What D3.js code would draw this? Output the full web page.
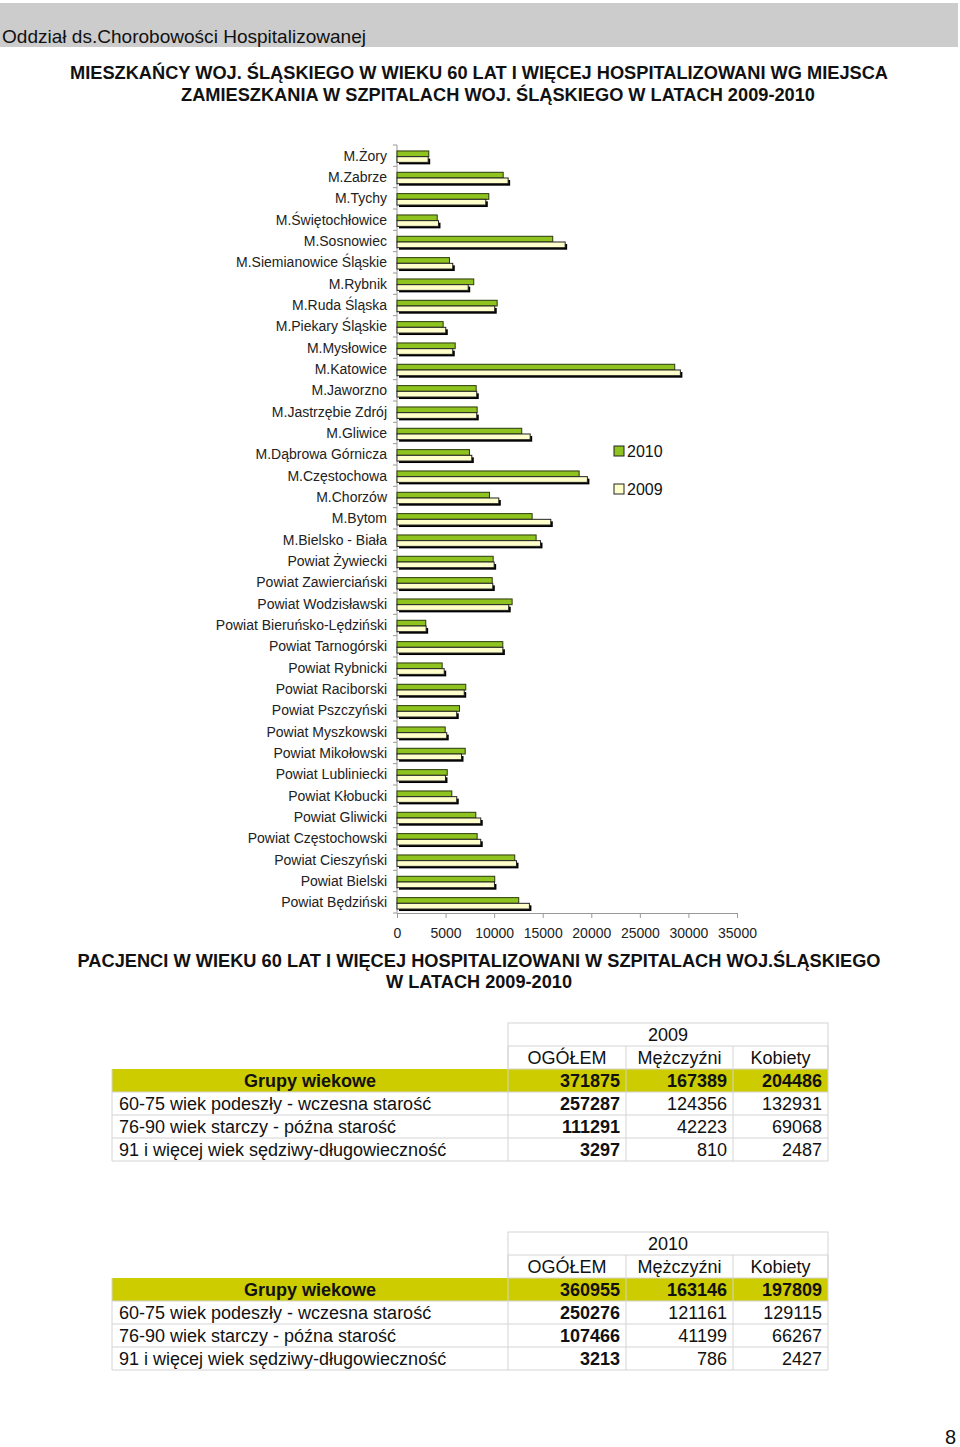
<!DOCTYPE html>
<html>
<head>
<meta charset="utf-8">
<script src="https://cdn.jsdelivr.net/npm/d3@7"></script>
<style>
  body { margin: 0; background: #fff; }
  svg { display: block; font-family: "Liberation Sans", Arial, sans-serif; }
</style>
</head>
<body>
<svg id="page" width="960" height="1447"></svg>
<script>
// categories, top to bottom as in the chart
const categories = [
  "M.Żory", "M.Zabrze", "M.Tychy", "M.Świętochłowice", "M.Sosnowiec",
  "M.Siemianowice Śląskie", "M.Rybnik", "M.Ruda Śląska", "M.Piekary Śląskie",
  "M.Mysłowice", "M.Katowice", "M.Jaworzno", "M.Jastrzębie Zdrój", "M.Gliwice",
  "M.Dąbrowa Górnicza", "M.Częstochowa", "M.Chorzów", "M.Bytom", "M.Bielsko - Biała",
  "Powiat Żywiecki", "Powiat Zawierciański", "Powiat Wodzisławski",
  "Powiat Bieruńsko-Lędziński", "Powiat Tarnogórski", "Powiat Rybnicki",
  "Powiat Raciborski", "Powiat Pszczyński", "Powiat Myszkowski", "Powiat Mikołowski",
  "Powiat Lubliniecki", "Powiat Kłobucki", "Powiat Gliwicki", "Powiat Częstochowski",
  "Powiat Cieszyński", "Powiat Bielski", "Powiat Będziński"
];

const values2010 = [
  3270, 10930, 9450, 4140, 16030, 5400, 7900, 10310, 4750, 5990, 28590, 8150,
  8250, 12840, 7460, 18750, 9520, 13910, 14320,
  9900, 9800, 11850, 2960, 10890, 4650, 7080, 6430, 4960, 7020, 5170, 5640,
  8110, 8250, 12120, 10060, 12530
];
const values2009 = [
  3210, 11440, 9140, 4270, 17310, 5740, 7330, 10060, 5020, 5740, 29170, 8210,
  8210, 13710, 7700, 19600, 10480, 15830, 14770,
  10000, 9860, 11500, 3000, 10900, 4860, 6920, 6150, 5120, 6640, 4990, 6150,
  8620, 8620, 12300, 10030, 13630
];
const years = ["2010", "2009"];
const xTicks = [0, 5000, 10000, 15000, 20000, 25000, 30000, 35000];

// tables
const tableCols = ["OGÓŁEM", "Mężczyźni", "Kobiety"];
const groups = [
  "Grupy wiekowe",
  "60-75 wiek podeszły - wczesna starość",
  "76-90 wiek starczy - późna starość",
  "91 i więcej wiek sędziwy-długowieczność"
];
const table2009 = [
  [371875, 167389, 204486],
  [257287, 124356, 132931],
  [111291, 42223, 69068],
  [3297, 810, 2487]
];
const table2010 = [
  [360955, 163146, 197809],
  [250276, 121161, 129115],
  [107466, 41199, 66267],
  [3213, 786, 2427]
];

const svg = d3.select("#page");

// header band
svg.append("rect").attr("x", 0).attr("y", 3).attr("width", 958).attr("height", 44).attr("fill", "#cccccc");
svg.append("text").attr("x", 2).attr("y", 43).attr("font-size", 19).attr("fill", "#111")
  .attr("textLength", 364).attr("lengthAdjust", "spacingAndGlyphs")
  .text("Oddział ds.Chorobowości Hospitalizowanej");

function title(txt, cx, y, w) {
  svg.append("text").attr("x", cx).attr("y", y).attr("text-anchor", "middle")
    .attr("font-size", 18).attr("font-weight", "bold").attr("fill", "#111")
    .attr("textLength", w).attr("lengthAdjust", "spacingAndGlyphs").text(txt);
}
title("MIESZKAŃCY WOJ. ŚLĄSKIEGO W WIEKU 60 LAT I WIĘCEJ HOSPITALIZOWANI WG MIEJSCA", 479, 79, 818);
title("ZAMIESZKANIA W SZPITALACH WOJ. ŚLĄSKIEGO W LATACH 2009-2010", 498, 101, 634);

// ---- bar chart ----
const x = d3.scaleLinear().domain([0, 35000]).range([397, 737]);
const y = d3.scaleBand().domain(categories).range([145, 913]);
const ySub = d3.scaleBand().domain(years).range([0, y.bandwidth()]).paddingOuter(0.87).align(0.6);

const chart = svg.append("g");

// y axis line and ticks at band edges
chart.append("line").attr("x1", 397).attr("x2", 397).attr("y1", 145).attr("y2", 913)
  .attr("stroke", "#999");
chart.selectAll(".ytick").data(d3.range(categories.length + 1)).enter().append("line")
  .attr("x1", 393).attr("x2", 397)
  .attr("y1", i => 145 + i * y.step()).attr("y2", i => 145 + i * y.step())
  .attr("stroke", "#999");

// x axis
const xAxis = chart.append("g").attr("transform", "translate(0,913)")
  .call(d3.axisBottom(x).tickValues(xTicks).tickSize(5).tickPadding(10).tickFormat(d3.format("d")));
xAxis.select(".domain").attr("stroke", "#999");
xAxis.selectAll(".tick line").attr("stroke", "#999");
xAxis.selectAll("text").attr("font-size", 14).attr("fill", "#222")
  .attr("font-family", "Liberation Sans, Arial, sans-serif");

// category labels
chart.selectAll(".cat").data(categories).enter().append("text")
  .attr("x", 387).attr("y", d => y(d) + y.bandwidth() / 2 + 5)
  .attr("text-anchor", "end").attr("font-size", 14).attr("fill", "#222")
  .text(d => d);

// 2009 shadows
chart.selectAll(".shadow").data(values2009).enter().append("rect")
  .attr("x", x(0) + 2).attr("y", (d, i) => y(categories[i]) + ySub("2009") + 2)
  .attr("width", d => x(d) - x(0)).attr("height", ySub.bandwidth())
  .attr("fill", "#000");

chart.selectAll(".b2010").data(values2010).enter().append("rect")
  .attr("x", x(0)).attr("y", (d, i) => y(categories[i]) + ySub("2010"))
  .attr("width", d => x(d) - x(0)).attr("height", ySub.bandwidth())
  .attr("fill", "#8fc31f").attr("stroke", "#2c3a0c").attr("stroke-width", 1);

chart.selectAll(".b2009").data(values2009).enter().append("rect")
  .attr("x", x(0)).attr("y", (d, i) => y(categories[i]) + ySub("2009"))
  .attr("width", d => x(d) - x(0)).attr("height", ySub.bandwidth())
  .attr("fill", "#ffffcc").attr("stroke", "#222").attr("stroke-width", 1);

// legend
const legend = chart.selectAll(".leg").data(years).enter().append("g")
  .attr("transform", (d, i) => `translate(614,${446 + i * 38})`);
legend.append("rect").attr("width", 10).attr("height", 10)
  .attr("fill", d => d === "2010" ? "#8fc31f" : "#ffffcc").attr("stroke", "#222");
legend.append("text").attr("x", 13).attr("y", 11).attr("font-size", 16).attr("fill", "#111").text(d => d);

// second title
title("PACJENCI W WIEKU 60 LAT I WIĘCEJ HOSPITALIZOWANI W SZPITALACH WOJ.ŚLĄSKIEGO", 479, 967, 803);
title("W LATACH 2009-2010", 479, 988, 186);

// ---- tables ----
const colX = [112, 508, 626, 733, 828];
const rowH = 23;

function drawTable(top, year, data) {
  const g = svg.append("g");
  const grid = "#d4d4d4";
  // yellow row
  g.append("rect").attr("x", colX[0]).attr("y", top + 2 * rowH)
    .attr("width", colX[4] - colX[0]).attr("height", rowH).attr("fill", "#cccc00");
  // year header box
  g.append("rect").attr("x", colX[1]).attr("y", top).attr("width", colX[4] - colX[1])
    .attr("height", 2 * rowH).attr("fill", "none").attr("stroke", grid);
  g.append("line").attr("x1", colX[1]).attr("x2", colX[4]).attr("y1", top + rowH).attr("y2", top + rowH)
    .attr("stroke", grid);
  // horizontal grid below header
  d3.range(3, 7).forEach(r => {
    g.append("line").attr("x1", colX[0]).attr("x2", colX[4])
      .attr("y1", top + r * rowH).attr("y2", top + r * rowH).attr("stroke", grid);
  });
  // vertical grid
  colX.forEach((cx, i) => {
    g.append("line").attr("x1", cx).attr("x2", cx)
      .attr("y1", i === 0 ? top + 2 * rowH : top + rowH).attr("y2", top + 6 * rowH)
      .attr("stroke", grid);
  });
  g.append("text").attr("x", (colX[1] + colX[4]) / 2).attr("y", top + 18)
    .attr("text-anchor", "middle").attr("font-size", 18).attr("fill", "#111").text(year);
  tableCols.forEach((c, i) => {
    g.append("text").attr("x", (colX[i + 1] + colX[i + 2]) / 2).attr("y", top + rowH + 18)
      .attr("text-anchor", "middle").attr("font-size", 18).attr("fill", "#111").text(c);
  });
  groups.forEach((name, r) => {
    const yy = top + (2 + r) * rowH + 18;
    g.append("text")
      .attr("x", r === 0 ? (colX[0] + colX[1]) / 2 : colX[0] + 7)
      .attr("y", yy).attr("text-anchor", r === 0 ? "middle" : "start")
      .attr("font-size", 18).attr("font-weight", r === 0 ? "bold" : "normal")
      .attr("fill", "#111").text(name);
    data[r].forEach((v, c) => {
      g.append("text").attr("x", colX[c + 2] - 6).attr("y", yy).attr("text-anchor", "end")
        .attr("font-size", 18).attr("font-weight", (r === 0 || c === 0) ? "bold" : "normal")
        .attr("fill", "#111").text(v);
    });
  });
}
drawTable(1023, "2009", table2009);
drawTable(1232, "2010", table2010);

// page number
svg.append("text").attr("x", 945).attr("y", 1444).attr("font-size", 20).attr("fill", "#111").text("8");
</script>
</body>
</html>
